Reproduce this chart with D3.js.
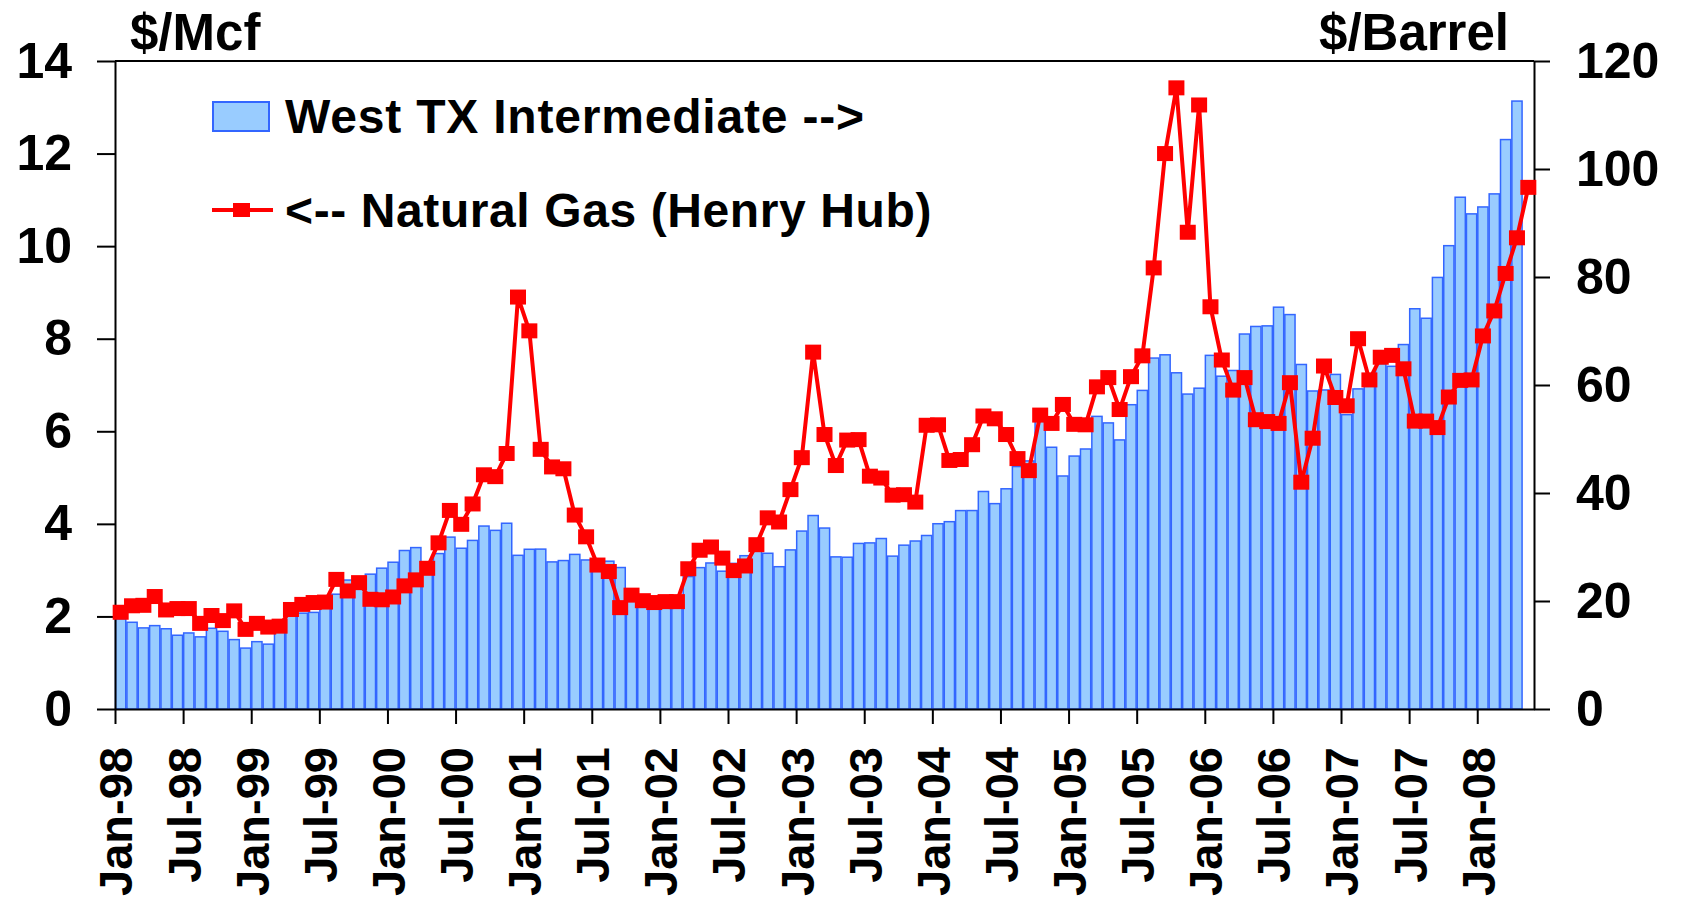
<!DOCTYPE html>
<html>
<head>
<meta charset="utf-8">
<script src="https://cdn.jsdelivr.net/npm/d3@7"></script>
<style>
  body { margin: 0; background: #fff; }
  text { font-family: "Liberation Sans", Arial, sans-serif; font-weight: bold; fill: #000; }
</style>
</head>
<body>
<svg id="chart" width="1684" height="907"></svg>
<script>
// monthly categories Jan-98 .. May-08
const months = d3.timeMonth.range(new Date(1998, 0, 1), new Date(2008, 5, 1));
const fmt = d3.timeFormat("%b-%y");
const categories = months.map(fmt);

const tickLabels = ["Jan-98", "Jul-98", "Jan-99", "Jul-99", "Jan-00", "Jul-00", "Jan-01", "Jul-01",
  "Jan-02", "Jul-02", "Jan-03", "Jul-03", "Jan-04", "Jul-04", "Jan-05", "Jul-05",
  "Jan-06", "Jul-06", "Jan-07", "Jul-07", "Jan-08"];

// Henry Hub natural gas, $/Mcf (left axis)
const henryHub = [
  2.09, 2.23, 2.24, 2.43, 2.14, 2.17, 2.17, 1.85, 2.02, 1.91, 2.12, 1.72,
  1.85, 1.77, 1.79, 2.15, 2.26, 2.30, 2.31, 2.80, 2.55, 2.73, 2.37, 2.36,
  2.42, 2.66, 2.79, 3.04, 3.59, 4.29, 3.99, 4.43, 5.06, 5.02, 5.52, 8.90,
  8.17, 5.61, 5.23, 5.19, 4.19, 3.72, 3.11, 2.97, 2.19, 2.46, 2.34, 2.30,
  2.32, 2.32, 3.03, 3.43, 3.50, 3.26, 2.99, 3.09, 3.55, 4.13, 4.04, 4.74,
  5.43, 7.71, 5.93, 5.26, 5.81, 5.82, 5.03, 4.99, 4.62, 4.63, 4.47, 6.13,
  6.14, 5.37, 5.39, 5.71, 6.33, 6.27, 5.93, 5.41, 5.15, 6.35, 6.17, 6.58,
  6.15, 6.14, 6.96, 7.16, 6.47, 7.18, 7.63, 9.53, 12.0, 13.42, 10.30, 13.05,
  8.69, 7.54, 6.89, 7.16, 6.25, 6.21, 6.17, 7.05, 4.90, 5.85, 7.41, 6.73,
  6.55, 8.00, 7.11, 7.60, 7.64, 7.35, 6.22, 6.22, 6.08, 6.74, 7.10, 7.11,
  8.06, 8.60, 9.41, 10.18, 11.27
];

// West Texas Intermediate, $/Barrel (right axis)
const wti = [
  16.71, 16.06, 15.02, 15.44, 14.86, 13.66, 14.08, 13.36, 14.95, 14.39, 12.85, 11.28,
  12.47, 12.01, 14.66, 17.34, 17.75, 17.89, 20.07, 21.26, 23.88, 22.64, 24.97, 26.08,
  27.18, 29.35, 29.89, 25.74, 28.78, 31.83, 29.77, 31.22, 33.88, 33.08, 34.40, 28.46,
  29.58, 29.61, 27.24, 27.49, 28.63, 27.60, 26.43, 27.37, 26.20, 22.17, 19.64, 19.39,
  19.72, 20.72, 24.53, 26.18, 27.04, 25.52, 26.97, 28.39, 29.66, 28.84, 26.35, 29.46,
  32.95, 35.83, 33.51, 28.17, 28.11, 30.66, 30.76, 31.57, 28.31, 30.34, 31.11, 32.13,
  34.31, 34.69, 36.74, 36.75, 40.28, 38.03, 40.78, 44.90, 45.94, 53.28, 48.47, 43.15,
  46.84, 48.15, 54.19, 52.98, 49.83, 56.35, 59.00, 64.99, 65.59, 62.26, 58.32, 59.41,
  65.49, 61.63, 62.69, 69.44, 70.84, 70.95, 74.41, 73.04, 63.80, 58.89, 59.08, 61.96,
  54.51, 59.28, 60.44, 63.98, 63.46, 67.49, 74.12, 72.36, 79.92, 85.80, 94.77, 91.69,
  92.97, 95.39, 105.45, 112.58
];

const LEFT = 115, RIGHT = 1534, TOP = 61, BOTTOM = 709;
const BAR_FILL = "#99ccff", BAR_STROKE = "#3366ff", RED = "#ff0000";

const svg = d3.select("#chart");
svg.append("rect").attr("width", 1684).attr("height", 907).attr("fill", "#fff");

const x = d3.scaleBand()
  .domain(categories)
  .range([LEFT, RIGHT])
  .paddingInner(0.1)
  .paddingOuter(0.05);

// tick positions sit on the month boundaries
const xTick = d3.scaleLinear().domain([0, categories.length]).range([LEFT, RIGHT]);

const yLeft = d3.scaleLinear().domain([0, 14]).range([BOTTOM, TOP]);
const yRight = d3.scaleLinear().domain([0, 120]).range([BOTTOM, TOP]);

// bars - WTI
svg.append("g")
  .selectAll("rect")
  .data(wti)
  .join("rect")
  .attr("x", (d, i) => x(categories[i]))
  .attr("width", x.bandwidth())
  .attr("y", d => yRight(d))
  .attr("height", d => BOTTOM - yRight(d))
  .attr("fill", BAR_FILL)
  .attr("stroke", BAR_STROKE)
  .attr("stroke-width", 1.5);

// top frame line
svg.append("line")
  .attr("x1", LEFT).attr("x2", RIGHT)
  .attr("y1", TOP).attr("y2", TOP)
  .attr("stroke", "#000").attr("stroke-width", 2);

// axes
const styleAxis = g => {
  g.select(".domain").attr("stroke", "#000").attr("stroke-width", 2);
  g.selectAll(".tick line").attr("stroke", "#000").attr("stroke-width", 2);
};

svg.append("g")
  .attr("transform", `translate(${LEFT},0)`)
  .call(d3.axisLeft(yLeft).tickValues(d3.range(0, 15, 2)).tickSize(18).tickSizeOuter(0).tickPadding(25))
  .call(styleAxis)
  .call(g => g.selectAll("text").attr("font-size", 50).attr("font-family", null));

svg.append("g")
  .attr("transform", `translate(${RIGHT},0)`)
  .call(d3.axisRight(yRight).tickValues(d3.range(0, 121, 20)).tickSize(16).tickSizeOuter(0).tickPadding(26))
  .call(styleAxis)
  .call(g => g.selectAll("text").attr("font-size", 50).attr("font-family", null));

svg.append("g")
  .attr("transform", `translate(0,${BOTTOM})`)
  .call(d3.axisBottom(xTick)
    .tickValues(tickLabels.map(l => categories.indexOf(l)))
    .tickFormat(i => categories[i])
    .tickSize(15).tickSizeOuter(0))
  .call(styleAxis)
  .call(g => g.selectAll("text")
    .attr("font-size", 47)
    .attr("font-family", null)
    .attr("transform", "rotate(-90)")
    .attr("text-anchor", "end")
    .attr("x", -38)
    .attr("y", 0)
    .attr("dy", "0.36em"));

// line - Henry Hub
const cx = i => x(categories[i]) + x.bandwidth() / 2;
const line = d3.line()
  .x((d, i) => cx(i))
  .y(d => yLeft(d));

svg.append("path")
  .datum(henryHub)
  .attr("fill", "none")
  .attr("stroke", RED)
  .attr("stroke-width", 4)
  .attr("stroke-linejoin", "round")
  .attr("d", line);

svg.append("g")
  .selectAll("rect")
  .data(henryHub)
  .join("rect")
  .attr("x", (d, i) => cx(i) - 8)
  .attr("y", d => yLeft(d) - 7.5)
  .attr("width", 16)
  .attr("height", 15)
  .attr("fill", RED);

// axis titles
svg.append("text")
  .attr("x", 130).attr("y", 50)
  .attr("font-size", 51)
  .text("$/Mcf");

svg.append("text")
  .attr("x", 1509).attr("y", 50)
  .attr("text-anchor", "end")
  .attr("font-size", 51)
  .text("$/Barrel");

// legend
const legend = svg.append("g");
legend.append("rect")
  .attr("x", 213).attr("y", 102)
  .attr("width", 56).attr("height", 29)
  .attr("fill", BAR_FILL)
  .attr("stroke", BAR_STROKE)
  .attr("stroke-width", 2);
legend.append("text")
  .attr("x", 285).attr("y", 133)
  .attr("font-size", 48)
  .attr("letter-spacing", 0.8)
  .text("West TX Intermediate -->");

legend.append("line")
  .attr("x1", 212).attr("x2", 273)
  .attr("y1", 210).attr("y2", 210)
  .attr("stroke", RED).attr("stroke-width", 4);
legend.append("rect")
  .attr("x", 233).attr("y", 203)
  .attr("width", 17).attr("height", 14)
  .attr("fill", RED);
legend.append("text")
  .attr("x", 285).attr("y", 227)
  .attr("font-size", 48)
  .attr("letter-spacing", 0.6)
  .text("<-- Natural Gas (Henry Hub)");
</script>
</body>
</html>
